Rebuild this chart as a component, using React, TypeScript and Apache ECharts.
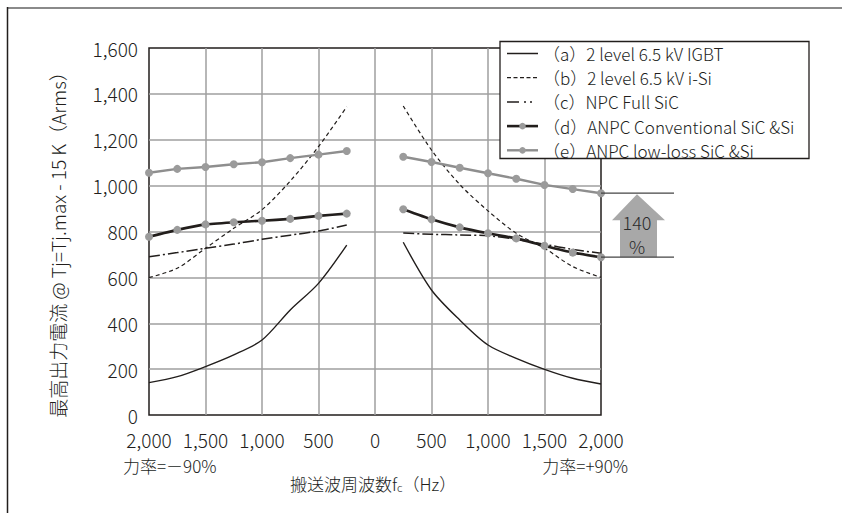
import React, { useEffect, useRef } from "react";
import * as echarts from "echarts";

// Carrier frequency (Hz); left half is power factor -90 %, right half +90 %
const xLeft = [-2000, -1750, -1500, -1250, -1000, -750, -500, -250];
const xRight = [250, 500, 750, 1000, 1250, 1500, 1750, 2000];

const seriesNames = [
  "（a）2 level 6.5 kV IGBT",
  "（b）2 level 6.5 kV i-Si",
  "（c）NPC Full SiC",
  "（d）ANPC Conventional SiC &Si",
  "（e）ANPC low-loss SiC &Si",
];

// Maximum output current (Arms)
const aLeft = [141, 167, 211, 262, 327, 458, 574, 741];
const aRight = [753, 545, 414, 305, 247, 199, 160, 135];
const bLeft = [599, 640, 727, 814, 895, 1020, 1170, 1344];
const bRight = [1347, 1155, 1005, 890, 792, 727, 647, 600];
const cLeft = [690, 708, 727, 745, 766, 784, 802, 828];
const cRight = [793, 788, 785, 782, 766, 744, 722, 705];
const dLeft = [777, 807, 831, 840, 847, 855, 868, 878];
const dRight = [897, 853, 818, 792, 770, 738, 708, 688];
const eLeft = [1056, 1073, 1081, 1093, 1102, 1120, 1135, 1151];
const eRight = [1126, 1103, 1078, 1054, 1030, 1003, 985, 967];

const yMin = 0;
const yMax = 1600;
const yStep = 200;
const xMin = -2000;
const xMax = 2000;
const xStep = 500;

const ratioLabel = "140\n%";
const pfLeft = "力率=－90%";
const pfRight = "力率=+90%";
const yName = "最高出力電流 @ Tj=Tj.max - 15 K（Arms）";

const FONT = "'Noto Sans CJK JP', 'Noto Sans', sans-serif";
const W = 300;
const DARK = "#221e1c";
const GRID = "#9f9f9f";
const GRAY = "#8e8e8e";
const MARK = "#9b9b9b";

const zip = (xs: number[], ys: number[]) => xs.map((x, i) => [x, ys[i]]);
const fmt = (v: number) => Math.abs(v).toLocaleString("en-US");

export default function App() {
  const ref = useRef<HTMLDivElement>(null);

  useEffect(() => {
    if (!ref.current) return;
    const chart = echarts.init(ref.current, undefined, { renderer: "svg" });

    const mk = (name: string, data: number[][], style: any) => ({
      type: "line",
      name,
      data,
      ...style,
    });

    const styleA = {
      symbol: "none",
      smooth: 0.3,
      lineStyle: { color: DARK, width: 1.4 },
      itemStyle: { color: DARK },
    };
    const styleB = {
      symbol: "none",
      smooth: 0.3,
      lineStyle: { color: DARK, width: 1.2, type: [4, 3] },
      itemStyle: { color: DARK },
    };
    const styleC = {
      symbol: "none",
      smooth: 0.2,
      lineStyle: { color: DARK, width: 1.5, type: [11, 3, 2, 3] },
      itemStyle: { color: DARK },
    };
    const styleD = {
      symbol: "circle",
      symbolSize: 8,
      smooth: 0.15,
      lineStyle: { color: DARK, width: 2.6 },
      itemStyle: { color: MARK },
      z: 4,
    };
    const styleE = {
      symbol: "circle",
      symbolSize: 8,
      lineStyle: { color: GRAY, width: 2.4 },
      itemStyle: { color: MARK },
      z: 4,
    };

    const series = [
      mk(seriesNames[0], zip(xLeft, aLeft), styleA),
      mk(seriesNames[1], zip(xLeft, bLeft), styleB),
      mk(seriesNames[2], zip(xLeft, cLeft), styleC),
      mk(seriesNames[3], zip(xLeft, dLeft), styleD),
      mk(seriesNames[4], zip(xLeft, eLeft), styleE),
      mk(seriesNames[0], zip(xRight, aRight), styleA),
      mk(seriesNames[1], zip(xRight, bRight), styleB),
      mk(seriesNames[2], zip(xRight, cRight), styleC),
      mk(seriesNames[3], zip(xRight, dRight), styleD),
      mk(seriesNames[4], zip(xRight, eRight), styleE),
    ];

    chart.setOption({
      animation: false,
      textStyle: { fontFamily: FONT },
      grid: {
        left: 149,
        top: 48,
        right: 241,
        bottom: 98,
        show: true,
        borderColor: DARK,
        borderWidth: 1.5,
        backgroundColor: "transparent",
      },
      xAxis: {
        type: "value",
        min: xMin,
        max: xMax,
        interval: xStep,
        axisLine: { show: false },
        axisTick: { show: false },
        axisLabel: {
          formatter: (v: number) => fmt(v),
          color: DARK,
          fontSize: 19,
          fontWeight: W,
          margin: 15,
          fontFamily: FONT,
        },
        splitLine: {
          show: true,
          showMinLine: false,
          showMaxLine: false,
          lineStyle: { color: GRID, width: 1.5 },
        },
      },
      yAxis: {
        type: "value",
        min: yMin,
        max: yMax,
        interval: yStep,
        axisLine: { show: false },
        axisTick: { show: false },
        axisLabel: {
          formatter: (v: number) => fmt(v),
          color: DARK,
          fontSize: 19,
          fontWeight: W,
          margin: 11,
          fontFamily: FONT,
        },
        splitLine: {
          show: true,
          showMinLine: false,
          showMaxLine: false,
          lineStyle: { color: GRID, width: 1.5 },
        },
      },
      series,
    });

    const pTop = chart.convertToPixel({ gridIndex: 0 }, [xMax, eRight[eRight.length - 1]]) as number[];
    const pBot = chart.convertToPixel({ gridIndex: 0 }, [xMax, dRight[dRight.length - 1]]) as number[];
    const pL = chart.convertToPixel({ gridIndex: 0 }, [xMin, yMin]) as number[];
    const pR = chart.convertToPixel({ gridIndex: 0 }, [xMax, yMin]) as number[];
    const x0 = pTop[0];
    const yT = pTop[1];
    const yB = pBot[1];
    const cx = x0 + 36;

    // legend (drawn by hand so each key matches its line style)
    const lgX = 500;
    const lgY = 41.5;
    const lgW = 309;
    const lgH = 117;
    const row0 = 53.5;
    const rowGap = 24.2;
    const iconX1 = 507;
    const iconX2 = 538;
    const textX = 543;
    const legendEls: any[] = [
      {
        type: "rect",
        shape: { x: lgX, y: lgY, width: lgW, height: lgH },
        style: { fill: "#fff", stroke: DARK, lineWidth: 1.3 },
        z: 20,
      },
    ];
    const iconStyles = [
      { stroke: DARK, lineWidth: 1.5 },
      { stroke: DARK, lineWidth: 1.3, lineDash: [4, 2.5] },
      { stroke: DARK, lineWidth: 1.5, lineDash: [12, 5, 2, 4, 2, 20] },
      { stroke: DARK, lineWidth: 2.6 },
      { stroke: GRAY, lineWidth: 2.4 },
    ];
    seriesNames.forEach((name, i) => {
      const y = row0 + i * rowGap;
      legendEls.push({
        type: "line",
        shape: { x1: iconX1, y1: y, x2: iconX2, y2: y },
        style: iconStyles[i],
        z: 21,
      });
      if (i >= 3) {
        legendEls.push({
          type: "circle",
          shape: { cx: (iconX1 + iconX2) / 2, cy: y, r: 3.3 },
          style: { fill: MARK },
          z: 22,
        });
      }
      legendEls.push({
        type: "text",
        x: textX,
        y,
        style: { text: name, fill: DARK, font: `${W} 17px ${FONT}`, align: "left", verticalAlign: "middle" },
        z: 22,
      });
    });

    chart.setOption({
      graphic: [
        { type: "line", shape: { x1: 7, y1: 8, x2: 842, y2: 8 }, style: { stroke: "#8a8a8a", lineWidth: 2 } },
        { type: "line", shape: { x1: 7.5, y1: 7, x2: 7.5, y2: 513 }, style: { stroke: DARK, lineWidth: 1.5 } },
        ...legendEls,
        {
          type: "polygon",
          shape: {
            points: [
              [cx, yT + 1],
              [x0 + 64, yT + 27],
              [x0 + 56, yT + 27],
              [x0 + 56, yB],
              [x0 + 19, yB],
              [x0 + 19, yT + 27],
              [x0 + 11, yT + 27],
            ],
          },
          style: { fill: "#a8a8a8" },
          z: 5,
        },
        { type: "line", shape: { x1: x0, y1: yT, x2: x0 + 73, y2: yT }, style: { stroke: "#444", lineWidth: 1.3 }, z: 5 },
        { type: "line", shape: { x1: x0, y1: yB, x2: x0 + 73, y2: yB }, style: { stroke: "#444", lineWidth: 1.3 }, z: 5 },
        {
          type: "text",
          x: cx,
          y: (yT + 29 + yT + 52) / 2,
          style: {
            text: ratioLabel,
            fill: "#2b2b2b",
            font: `${W} 18px ${FONT}`,
            lineHeight: 24,
            align: "center",
            verticalAlign: "middle",
          },
          z: 6,
        },
        {
          type: "text",
          x: pL[0] - 26,
          y: pL[1] + 50,
          style: { text: pfLeft, fill: DARK, font: `${W} 17px ${FONT}`, align: "left", verticalAlign: "middle" },
        },
        {
          type: "text",
          x: pR[0] + 27,
          y: pR[1] + 50,
          style: { text: pfRight, fill: DARK, font: `${W} 17px ${FONT}`, align: "right", verticalAlign: "middle" },
        },
        {
          type: "text",
          x: 290,
          y: 483,
          style: {
            text: "{m|搬送波周波数f}{s|c}{m|（Hz）}",
            fill: DARK,
            align: "left",
            verticalAlign: "middle",
            rich: {
              m: { fontSize: 17, fontWeight: W, fontFamily: FONT, color: DARK },
              s: { fontSize: 11, fontWeight: W, fontFamily: FONT, color: DARK, padding: [8, 0, 0, 0] },
            },
          },
        },
        {
          type: "text",
          x: 57,
          y: 240,
          rotation: Math.PI / 2,
          style: { text: yName, fill: DARK, font: `${W} 19px ${FONT}`, align: "center", verticalAlign: "middle" },
        },
      ],
    });

    return () => chart.dispose();
  }, []);

  return (
    <div
      ref={ref}
      style={{ position: "fixed", left: 0, top: 0, width: 842, height: 513, background: "#fff" }}
    />
  );
}
